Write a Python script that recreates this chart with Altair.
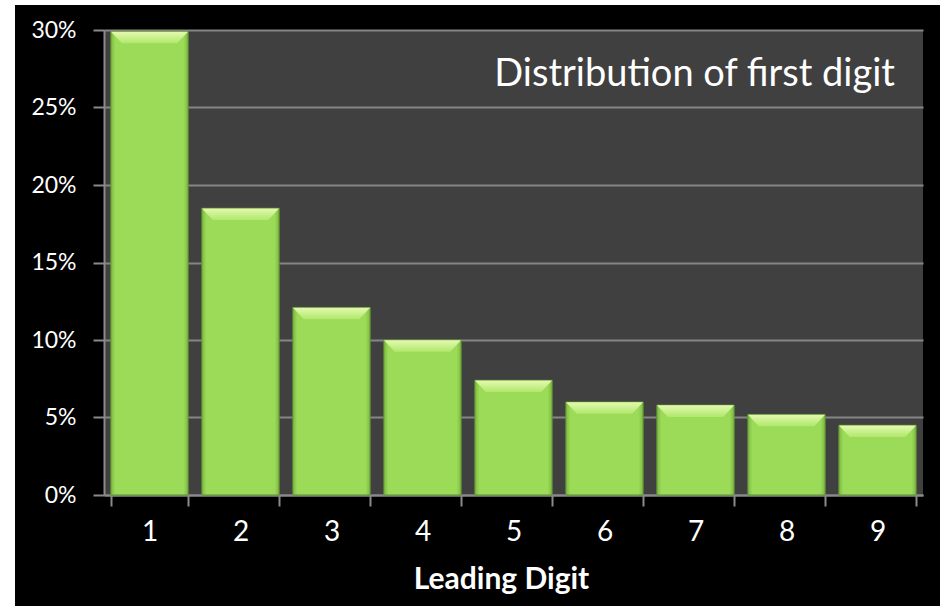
import altair as alt
import pandas as pd

# Share of records by leading digit
digits = ["1", "2", "3", "4", "5", "6", "7", "8", "9"]
shares = [0.299, 0.185, 0.121, 0.100, 0.074, 0.060, 0.058, 0.052, 0.045]
y_ticks = [0, 0.05, 0.10, 0.15, 0.20, 0.25, 0.30]
chart_title = "Distribution of first digit"

df = pd.DataFrame({"digit": digits, "share": shares})

W, H = 819, 465
FONT = "Lato"
AXIS_GRAY = "#8a8a8a"

x_enc = alt.X(
    "digit:N",
    sort=digits,
    scale=alt.Scale(paddingInner=0.15, paddingOuter=0.075),
    axis=alt.Axis(
        title="Leading Digit",
        labelAngle=0,
        grid=False,
        tickBand="extent",
        tickSize=11,
        tickWidth=2,
        tickColor=AXIS_GRAY,
        domainColor=AXIS_GRAY,
        domainWidth=2,
        labelColor="white",
        labelFont=FONT,
        labelFontSize=28,
        labelPadding=12,
        titleColor="white",
        titleFont=FONT,
        titleFontSize=30,
        titleFontWeight="bold",
        titleX=397,
        titleY=93,
        titleBaseline="alphabetic",
    ),
)

y_enc = alt.Y(
    "share:Q",
    scale=alt.Scale(domain=[0, 0.3], nice=False),
    axis=alt.Axis(
        values=y_ticks,
        format=".0%",
        title=None,
        tickSize=11,
        tickWidth=2,
        tickColor=AXIS_GRAY,
        domainColor=AXIS_GRAY,
        domainWidth=2,
        gridColor="#858585",
        gridWidth=2,
        labelColor="white",
        labelFont=FONT,
        labelFontSize=23,
        labelPadding=17,
    ),
)

# Bar body: slightly darker left/right edges for a bevelled look
side_shade = alt.Gradient(
    gradient="linear", x1=0, x2=1, y1=0, y2=0,
    stops=[
        alt.GradientStop(color="#7db943", offset=0),
        alt.GradientStop(color="#9bdb58", offset=0.06),
        alt.GradientStop(color="#9bdb58", offset=0.94),
        alt.GradientStop(color="#7db943", offset=1),
    ],
)

# Light bevel across the top of each bar
top_shade = alt.Gradient(
    gradient="linear", x1=0, x2=0, y1=0, y2=1,
    stops=[
        alt.GradientStop(color="#e4f9b0", offset=0),
        alt.GradientStop(color="#b0e86c", offset=1),
    ],
)

bars = alt.Chart(df).mark_bar(
    fill=side_shade, stroke="#5f8f30", strokeWidth=1
).encode(x=x_enc, y=y_enc)

bevel = alt.Chart(df).mark_point(
    shape="M-1,-0.15L1,-0.15L0.72,0.15L-0.72,0.15Z",
    size=77 * 77,
    filled=True,
    fill=top_shade,
    opacity=1,
    strokeWidth=0,
    yOffset=6,
).encode(x=alt.X("digit:N", sort=digits), y="share:Q")

# Thin white margin along the left and top edges of the canvas
edge = pd.DataFrame({"k": [0]})
left_strip = alt.Chart(edge).mark_rect(color="white").encode(
    x=alt.value(-104), x2=alt.value(-89), y=alt.value(-30), y2=alt.value(576)
)
top_strip = alt.Chart(edge).mark_rect(color="white").encode(
    x=alt.value(-104), x2=alt.value(836), y=alt.value(-30), y2=alt.value(-25)
)

# Title sits inside the plot area, top right
title = alt.Chart(edge).mark_text(
    text=chart_title,
    align="right",
    baseline="alphabetic",
    color="white",
    font=FONT,
    fontSize=38,
).encode(x=alt.value(W - 28), y=alt.value(56))

chart = (
    alt.layer(left_strip, top_strip, bars, bevel, title)
    .properties(
        width=W,
        height=H,
        padding={"left": 104, "top": 30, "right": 17, "bottom": 111},
        autosize=alt.AutoSizeParams(type="none"),
        background="black",
    )
    .configure_view(fill="#404040", stroke=None)
)

chart.save("out.html", embed_options={"renderer": "svg", "actions": False})
